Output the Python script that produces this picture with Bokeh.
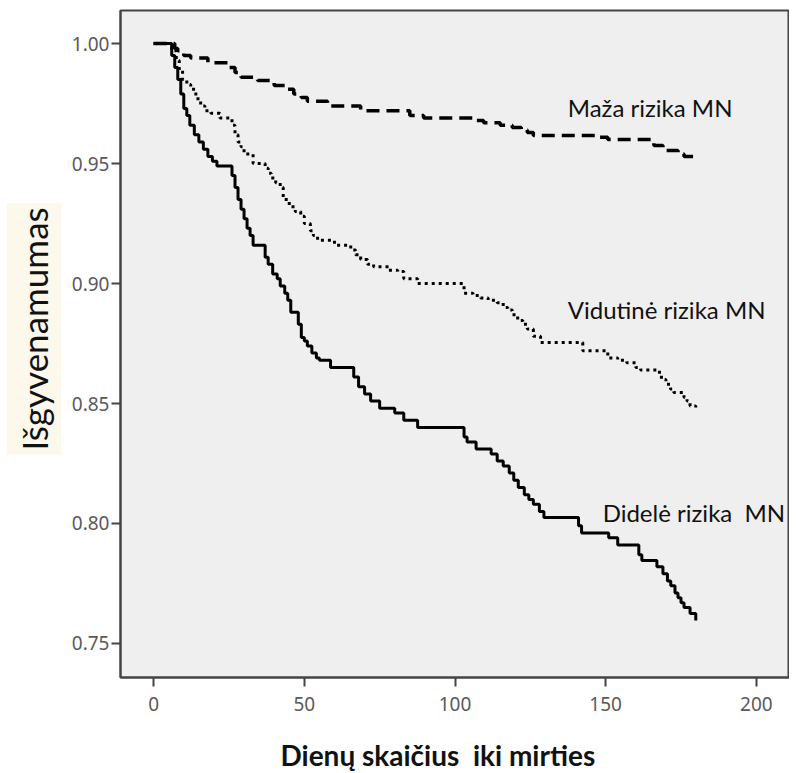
from bokeh.plotting import figure
from bokeh.models import Range1d, FixedTicker, Label, NumeralTickFormatter, Title
from bokeh.embed import file_html
from bokeh.resources import INLINE

# ---- data ----
high_t = [0, 6, 7, 8, 9, 10, 11, 12, 13.5, 15, 16.5, 18, 19.5, 21, 26, 27, 28, 29, 30, 31, 32, 33,
          37, 38, 39.5, 41, 42, 43.5, 44.5, 45.5, 48, 49, 50, 51, 52.5, 54, 55, 58.7, 66.4, 68, 70,
          72, 75, 80, 83, 87.6, 103, 104, 107, 112, 114, 116, 118, 119.5, 121, 123, 124.5, 126,
          128, 129.5, 141, 142, 151, 154, 161, 162, 167, 169, 170.5, 171.6, 173, 174, 175, 176,
          178, 179.9]
high_s = [1.0, 0.995, 0.99, 0.985, 0.979, 0.973, 0.970, 0.966, 0.962, 0.959, 0.956, 0.953, 0.951,
          0.949, 0.945, 0.940, 0.935, 0.931, 0.927, 0.923, 0.920, 0.916, 0.911, 0.908, 0.904,
          0.902, 0.899, 0.896, 0.893, 0.888, 0.883, 0.8775, 0.876, 0.874, 0.871, 0.869, 0.868,
          0.865, 0.861, 0.857, 0.854, 0.851, 0.848, 0.846, 0.843, 0.840, 0.836, 0.834, 0.831,
          0.829, 0.826, 0.824, 0.821, 0.818, 0.815, 0.812, 0.810, 0.808, 0.805, 0.8025, 0.799,
          0.796, 0.794, 0.791, 0.787, 0.7846, 0.782, 0.779, 0.776, 0.774, 0.771, 0.769, 0.767,
          0.765, 0.7625, 0.7596]

mid_t = [0, 6, 7.5, 8.5, 9.6, 11, 12.3, 14, 15.6, 17, 19, 22, 26, 27, 28, 29, 30, 33, 37, 38, 39,
         40.5, 42, 43, 45, 47, 48.8, 50, 52, 53, 54.4, 60, 65.4, 67, 68.7, 71, 73, 78, 81, 83,
         87.6, 103, 106, 108.5, 111, 114, 116, 117.5, 119, 120.8, 122.5, 124, 126, 128.4, 142.4,
         150.7, 154, 157, 160, 161.6, 167, 168.5, 170, 171.5, 172.6, 176, 177, 178, 179.9]
mid_s = [1.0, 0.997, 0.993, 0.989, 0.985, 0.983, 0.981, 0.977, 0.974, 0.972, 0.971, 0.969, 0.966,
         0.962, 0.959, 0.957, 0.954, 0.950, 0.948, 0.946, 0.944, 0.942, 0.940, 0.935, 0.932,
         0.930, 0.928, 0.925, 0.922, 0.920, 0.918, 0.916, 0.914, 0.912, 0.910, 0.908, 0.907,
         0.9055, 0.905, 0.902, 0.900, 0.896, 0.895, 0.894, 0.893, 0.892, 0.890, 0.889, 0.887,
         0.8846, 0.883, 0.881, 0.878, 0.8754, 0.872, 0.869, 0.868, 0.867, 0.865, 0.864, 0.863,
         0.860, 0.858, 0.856, 0.8546, 0.8525, 0.851, 0.849, 0.847]

low_t = [0, 7, 8, 10, 12.3, 18, 24.5, 27, 29, 34.5, 40, 44, 46.5, 49, 51, 57.7, 68.7, 85, 89.6,
         106, 109.5, 115, 119, 122, 124, 126, 148, 150.7, 166, 169, 174, 176, 179]
low_s = [1.0, 0.998, 0.997, 0.995, 0.994, 0.992, 0.990, 0.988, 0.986, 0.9846, 0.9825, 0.981,
         0.979, 0.9775, 0.976, 0.974, 0.972, 0.970, 0.969, 0.968, 0.967, 0.966, 0.965, 0.964,
         0.963, 0.9617, 0.961, 0.960, 0.9575, 0.9554, 0.954, 0.953, 0.953]

x_ticks = [0, 50, 100, 150, 200]
y_ticks = [0.75, 0.80, 0.85, 0.90, 0.95, 1.00]

labels = ["Maža rizika MN", "Vidutinė rizika MN", "Didelė rizika\u00a0 MN"]
x_title = "Dienų skaičius\u00a0 iki mirties"
y_title = "Išgyvenamumas"

# ---- figure ----
p = figure(width=789, height=773, output_backend="svg", toolbar_location=None,
           x_range=Range1d(-11, 211), y_range=Range1d(0.7358, 1.0138),
           min_border_left=120, min_border_right=0, min_border_top=10, min_border_bottom=96)
p.background_fill_color = "#efefef"
p.border_fill_color = "white"
p.outline_line_color = "#444444"
p.outline_line_width = 2
p.xgrid.visible = False
p.ygrid.visible = False

for ax in (p.xaxis[0], p.yaxis[0]):
    ax.axis_line_color = "#444444"
    ax.axis_line_width = 2
    ax.major_tick_line_color = "#444444"
    ax.major_tick_line_width = 2
    ax.major_tick_out = 9
    ax.major_tick_in = 0
    ax.minor_tick_line_color = None
    ax.major_label_text_font = "Noto Sans"
    ax.major_label_text_font_size = "19px"
    ax.major_label_text_color = "#5a5a5a"

p.xaxis.ticker = FixedTicker(ticks=x_ticks)
p.yaxis.ticker = FixedTicker(ticks=y_ticks)
p.yaxis.formatter = NumeralTickFormatter(format="0.00")
p.xaxis.major_label_standoff = 10
p.yaxis.major_label_standoff = 2
# invisible spacer so the x title sits lower
p.xaxis.axis_label = "\u00a0"
p.xaxis.axis_label_text_font_size = "6px"
p.xaxis.axis_label_standoff = 13

# ---- curves ----
p.step(low_t, low_s, mode="after", line_color="black", line_width=3.5, line_dash="13 7")
p.step(mid_t, mid_s, mode="after", line_color="black", line_width=3, line_dash="3 4")
p.step(high_t, high_s, mode="after", line_color="black", line_width=3)

# ---- annotations ----
lab_x = [137.4, 137.4, 149.0]
lab_y = [0.9733, 0.8892, 0.8046]
for t, xx, yy in zip(labels, lab_x, lab_y):
    p.add_layout(Label(x=xx, y=yy, text=t, text_font="Lato", text_font_size="24px",
                       text_color="#111111", text_baseline="alphabetic", text_align="left"))

xt = Title(text=x_title, text_font="Lato", text_font_style="bold", text_font_size="28px",
           text_color="#111111", align="left", offset=160, standoff=0)
p.add_layout(xt, "below")

yt = Title(text=y_title, text_font="Lato", text_font_style="normal", text_font_size="35px",
           text_color="#111111", align="left", offset=223, standoff=15,
           background_fill_color="#fdf8ec", padding=(4, 6))
p.add_layout(yt, "left")

open("out.html", "w").write(file_html(p, INLINE))
